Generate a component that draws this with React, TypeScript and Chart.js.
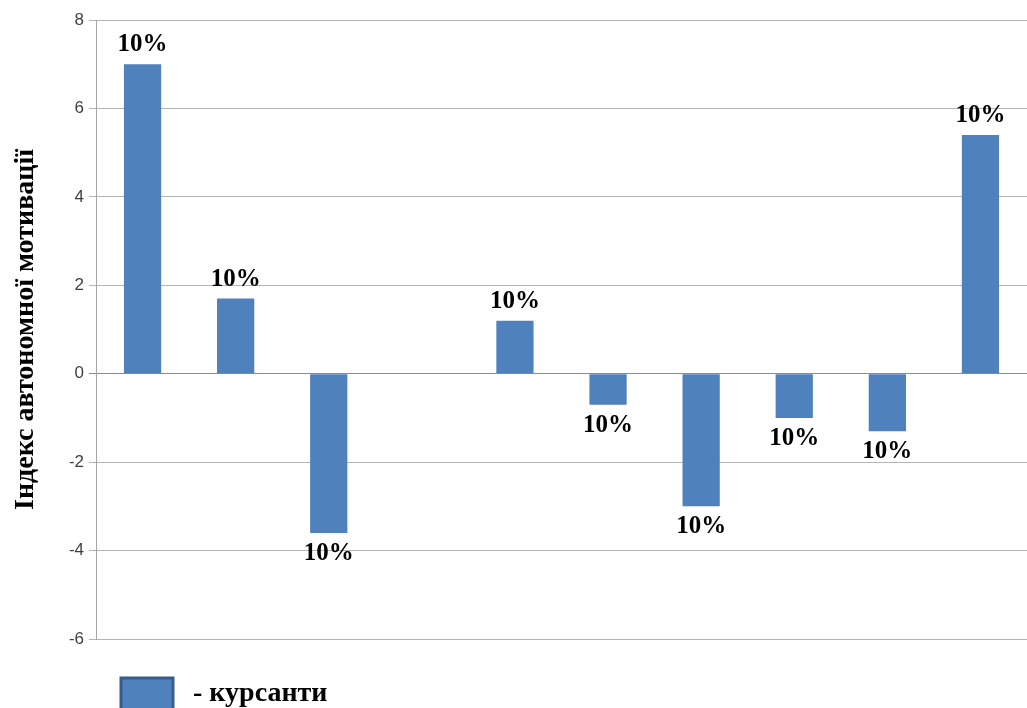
import React, { useEffect, useRef } from "react";
import { Chart, registerables } from "chart.js";

Chart.register(...registerables);

const categories = ["1", "2", "3", "4", "5", "6", "7", "8", "9", "10"];
const seriesLabel = "- курсанти";
const values: (number | null)[] = [7, 1.7, -3.6, null, 1.2, -0.7, -3, -1, -1.3, 5.4];
const dataLabels = ["10%", "10%", "10%", "", "10%", "10%", "10%", "10%", "10%", "10%"];
const yTitle = "Індекс автономної мотивації";
const yMin = -6;
const yMax = 8;
const yStep = 2;

const BAR_COLOR = "#4f81bd";
const SERIF = "'Liberation Serif', 'Times New Roman', serif";

const labelPlugin = {
  id: "barLabels",
  afterDatasetsDraw(chart: any) {
    const ctx = chart.ctx;
    const meta = chart.getDatasetMeta(0);
    ctx.save();
    ctx.font = `bold 25px ${SERIF}`;
    ctx.fillStyle = "#000";
    ctx.textAlign = "center";
    ctx.textBaseline = "alphabetic";
    meta.data.forEach((el: any, i: number) => {
      const v = values[i];
      const txt = dataLabels[i];
      if (v === null || !txt) return;
      const y = v >= 0 ? el.y - 13 : el.y + 27;
      ctx.fillText(txt, el.x, y);
    });
    ctx.restore();
  },
};

const legendPlugin = {
  id: "customLegend",
  afterDraw(chart: any) {
    const ctx = chart.ctx;
    ctx.save();
    const bx = 121, by = 678, bw = 52, bh = 36;
    ctx.fillStyle = BAR_COLOR;
    ctx.strokeStyle = "#385d8a";
    ctx.lineWidth = 3;
    ctx.beginPath();
    ctx.rect(bx, by, bw, bh);
    ctx.fill();
    ctx.stroke();
    ctx.font = `bold 28px ${SERIF}`;
    ctx.fillStyle = "#000";
    ctx.textAlign = "left";
    ctx.textBaseline = "alphabetic";
    ctx.fillText(chart.data.datasets[0].label, 193, 701);
    ctx.restore();
  },
};

export default function App() {
  const canvasRef = useRef<HTMLCanvasElement | null>(null);

  useEffect(() => {
    if (!canvasRef.current) return;
    const chart = new Chart(canvasRef.current, {
      type: "bar",
      data: {
        labels: categories,
        datasets: [
          {
            label: seriesLabel,
            data: values as any,
            backgroundColor: BAR_COLOR,
            borderWidth: 0,
            barPercentage: 0.4,
            categoryPercentage: 1,
          },
        ],
      },
      options: {
        animation: false,
        responsive: false,
        maintainAspectRatio: false,
        layout: { padding: { top: 20, bottom: 69, left: 0, right: 0 } },
        plugins: {
          legend: { display: false },
          tooltip: { enabled: false },
        },
        scales: {
          x: {
            grid: { display: false },
            border: { display: false },
            ticks: { display: false },
            afterFit: (s: any) => {
              s.height = 0;
            },
          },
          y: {
            min: yMin,
            max: yMax,
            ticks: {
              stepSize: yStep,
              color: "#404040",
              font: { family: "'Liberation Sans', Arial, sans-serif", size: 17 },
              padding: 5,
            },
            grid: {
              color: (c: any) => (c.tick && c.tick.value === 0 ? "#8c8c8c" : "#b4b4b4"),
              tickLength: 7,
              lineWidth: 1,
            },
            border: { display: true, color: "#a6a6a6" },
            title: {
              display: true,
              text: yTitle,
              color: "#000",
              font: { family: SERIF, size: 28, weight: "bold" },
              padding: { top: 9, bottom: 0 },
            },
            afterFit: (s: any) => {
              s.width = 96;
            },
          },
        },
      },
      plugins: [labelPlugin, legendPlugin],
    });
    return () => chart.destroy();
  }, []);

  return (
    <div style={{ position: "absolute", left: 0, top: 0, width: 1027, height: 708, background: "#fff" }}>
      <canvas ref={canvasRef} width={1027} height={708} style={{ width: 1027, height: 708 }} />
    </div>
  );
}
